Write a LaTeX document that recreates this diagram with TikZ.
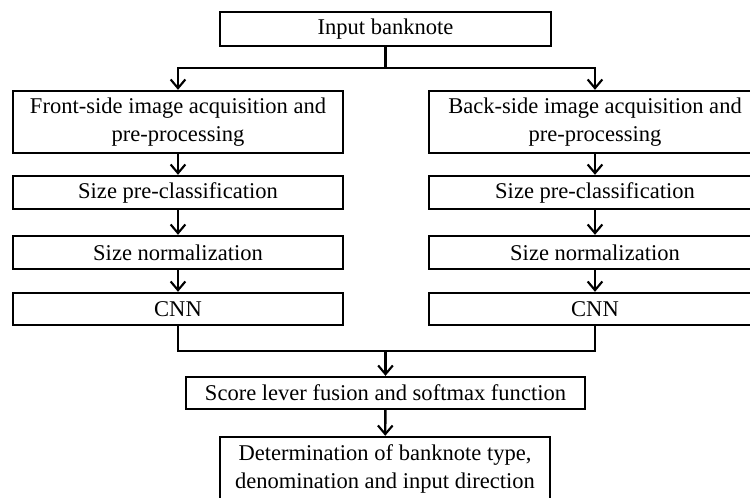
\documentclass[tikz,border=0pt]{standalone}
\usepackage{fontspec}
\setmainfont{Liberation Serif}
\usetikzlibrary{arrows.meta}
\begin{document}
\begin{tikzpicture}[x=0.75pt,y=-0.75pt,
  box/.style={draw,line width=1.8pt,inner sep=0pt,align=center,
    font=\fontsize{16.9pt}{20.6pt}\selectfont},
  conn/.style={line width=1.8pt},
  arr/.style={conn,-{Straight Barb[length=6.5pt,width=11pt,line width=1.6pt]}}]
\useasboundingbox (0,0) rectangle (750,497);
\clip (0,0) rectangle (750,497);
\node[box,minimum width=331*0.75pt,minimum height=34*0.75pt] (top) at (385.5,29) {Input banknote};
\node[box,minimum width=330*0.75pt,minimum height=62*0.75pt] (front) at (178,122) {Front-side image acquisition and\\pre-processing};
\node[box,minimum width=332*0.75pt,minimum height=62*0.75pt] (back) at (595,122) {Back-side image acquisition and\\pre-processing};
\node[box,minimum width=330*0.75pt,minimum height=33*0.75pt] (spL) at (178,192.5) {Size pre-classification};
\node[box,minimum width=332*0.75pt,minimum height=33*0.75pt] (spR) at (595,192.5) {Size pre-classification};
\node[box,minimum width=330*0.75pt,minimum height=33*0.75pt] (snL) at (178,252.5) {Size normalization};
\node[box,minimum width=332*0.75pt,minimum height=33*0.75pt] (snR) at (595,252.5) {Size normalization};
\node[box,minimum width=330*0.75pt,minimum height=32*0.75pt] (cnnL) at (178,309) {CNN};
\node[box,minimum width=332*0.75pt,minimum height=32*0.75pt] (cnnR) at (595,309) {CNN};
\node[box,minimum width=399*0.75pt,minimum height=32*0.75pt] (score) at (385.5,393) {Score lever fusion and softmax function};
\node[box,minimum width=330*0.75pt,minimum height=64*0.75pt] (final) at (385,469) {Determination of banknote type,\\denomination and input direction};
\coordinate (j) at (385.5,68);
\coordinate (m) at (385.5,351);
\draw[conn] (top) -- (j);
\draw[arr] (j) -| (front);
\draw[arr] (j) -| (back);
\draw[arr] (front) -- (spL);
\draw[arr] (back) -- (spR);
\draw[arr] (spL) -- (snL);
\draw[arr] (spR) -- (snR);
\draw[arr] (snL) -- (cnnL);
\draw[arr] (snR) -- (cnnR);
\draw[conn] (cnnL) |- (m);
\draw[conn] (cnnR) |- (m);
\draw[arr] (m) -- (score);
\draw[arr] (score) -- (final);
\end{tikzpicture}
\end{document}
